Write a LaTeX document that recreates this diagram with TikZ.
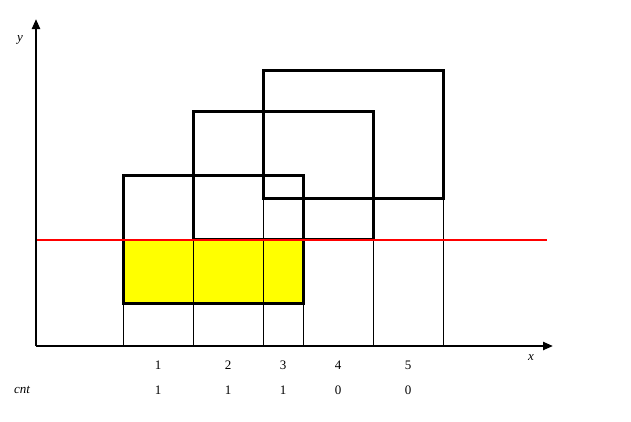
\documentclass[tikz,border=0pt]{standalone}
\usepackage{fontspec}
\setmainfont{Liberation Serif}
\usetikzlibrary{arrows.meta, positioning}
\definecolor{hityellow}{RGB}{255,255,0}
\tikzset{
  >={Triangle[length=10pt, width=8pt]},
  axis/.style    = {->, line width=2.2pt},
  interval/.style= {draw, line width=3pt},
  guide/.style   = {line width=1pt},
  sweep/.style   = {red, line width=2pt},
  hit/.style     = {fill=hityellow},
  lbl/.style     = {font=\fontsize{13}{15}\selectfont, inner sep=1pt},
  var/.style     = {lbl, font=\fontsize{13}{15}\selectfont\itshape},
}
\begin{document}
\begin{tikzpicture}[x=1pt, y=-1pt]
  \useasboundingbox (0,0) rectangle (631,421);

  % Axes
  \coordinate (O)  at (36,346);
  \coordinate (xe) at (553,346);
  \coordinate (ye) at (36,19);
  \node[var] (ylab) at (20,40)  {y};
  \node[var] (xlab) at (531,358) {x};

  % Overlap with the sweep line
  \fill[hit] (123,240) rectangle (303,303);

  % Guides down to the x axis
  \foreach \x/\top in {123/303, 193/239, 263/198, 303/303, 373/239, 443/198}
    \draw[guide] (\x,\top) -- (\x,346);

  % Rectangles
  \draw[interval] (123,175) rectangle (303,303);
  \draw[interval] (193,111) rectangle (373,239);
  \draw[interval] (263,70)  rectangle (443,198);

  % Sweep line
  \coordinate (sl) at (36,240);
  \coordinate (sr) at (547,240);
  \draw[sweep] (sl) -- (sr);

  \draw[axis] (O) -- (xe);
  \draw[axis] (O) -- (ye);

  % Slab indices and counts
  \node[var] (cnt) at (22,390) {cnt};
  \foreach \i/\x/\c in {1/158/1, 2/228/1, 3/283/1, 4/338/0, 5/408/0} {
    \node[lbl] (idx\i) at (\x,365) {\i};
    \node[lbl] (cnt\i) at (\x,390) {\c};
  }
\end{tikzpicture}
\end{document}
